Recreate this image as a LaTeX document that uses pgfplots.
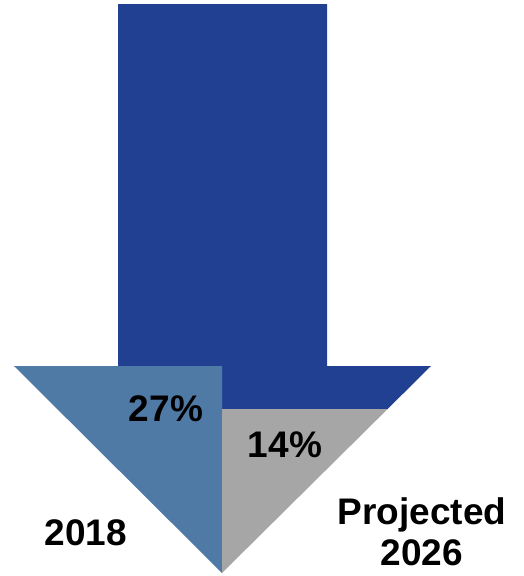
\documentclass[border=0pt]{standalone}
\usepackage{pgfplots}
\pgfplotsset{compat=1.18}
\usepackage{fontspec}
\setmainfont{Liberation Sans}
\definecolor{darkblue}{HTML}{214092}
\definecolor{steel}{HTML}{507AA6}
\definecolor{lgray}{HTML}{A6A6A6}
\begin{document}
\begin{tikzpicture}
\useasboundingbox (0,0) rectangle (524pt,576pt);
\begin{axis}[
  at={(0,0)}, anchor=south west,
  width=524pt, height=576pt, scale only axis,
  xmin=0, xmax=524, ymin=0, ymax=576, y dir=reverse,
  hide axis, clip=false,
]
% shaft and upper band (dark blue)
\addplot[draw=none, fill=darkblue] coordinates {
  (118,4) (327,4) (327,366) (431,366) (387.6,409) (222,409) (222,366) (118,366)
} -- cycle;
% 2018 share (steel blue)
\addplot[draw=none, fill=steel] coordinates {
  (14,366) (222,366) (222,573)
} -- cycle;
% projected 2026 share (gray)
\addplot[draw=none, fill=lgray] coordinates {
  (222,409) (387.6,409) (222,573)
} -- cycle;
\node[font=\fontsize{37}{41}\selectfont\bfseries] at (axis cs:166,409) {27\%};
\node[font=\fontsize{37}{41}\selectfont\bfseries] at (axis cs:285,445) {14\%};
\node[font=\fontsize{37}{41}\selectfont\bfseries] at (axis cs:86,533) {2018};
\node[font=\fontsize{37}{41}\selectfont\bfseries, align=center] at (axis cs:422,532) {Projected\\2026};
\end{axis}
\end{tikzpicture}
\end{document}
